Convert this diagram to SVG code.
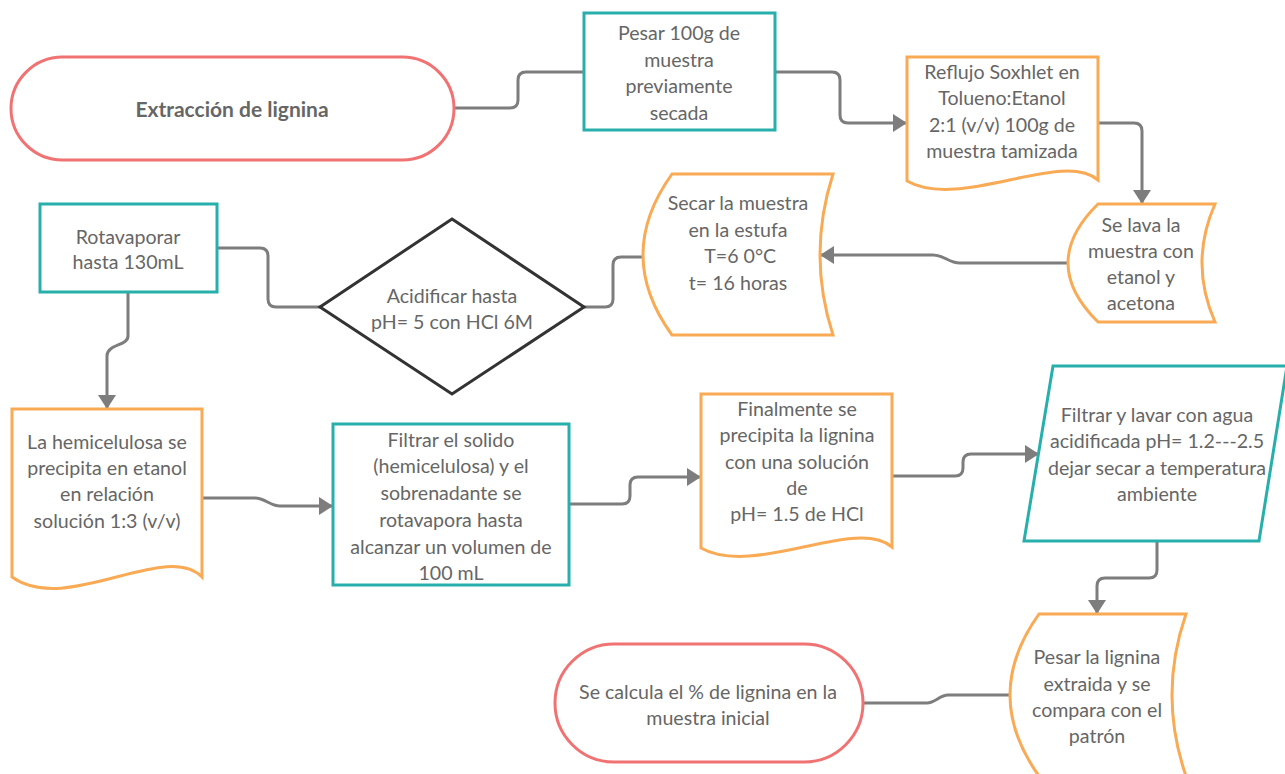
<svg xmlns="http://www.w3.org/2000/svg" width="1285" height="774" viewBox="0 0 1285 774">
<defs>
<style>
.t{font-family:Lato,"Open Sans","Liberation Sans",sans-serif;font-size:19.6px;fill:#666;text-anchor:middle}
.b{font-weight:bold;font-size:21px}
.teal{fill:#fff;stroke:#27b0ab;stroke-width:3}
.orange{fill:#fff;stroke:#f9aa55;stroke-width:3}
.red{fill:#fff;stroke:#f07272;stroke-width:3}
.dia{fill:#fff;stroke:#333;stroke-width:3}
.c{fill:none;stroke:#7d7d7d;stroke-width:3}
.a{marker-end:url(#arr)}
</style>
<marker id="arr" markerUnits="userSpaceOnUse" markerWidth="16" markerHeight="20" refX="14" refY="9" orient="auto">
<path d="M0,0 L14,9 L0,18 Z" fill="#7d7d7d"/>
</marker>
</defs>
<rect width="1285" height="774" fill="#fff"/>
<g id="connectors">
<path class="c" d="M455,108 H510 Q518,108 518,100 V80 Q518,72 526,72 H584"/>
<path class="c a" d="M775,72 H832 Q840,72 840,80 V115 Q840,123 848,123 H907"/>
<path class="c a" d="M1098,123 H1134 Q1142,123 1142,131 V204"/>
<path class="c a" d="M1068,263 H960 C948,263 945,255 933,255 H820"/>
<path class="c" d="M643,257 H621 Q613,257 613,265 V299 Q613,307 605,307 H583"/>
<path class="c" d="M217,248 H260 Q268,248 268,256 V299 Q268,307 276,307 H320"/>
<path class="c a" d="M128,292 V336 C128,346 107,344 107,356 V409"/>
<path class="c a" d="M202,498 H255 C265,498 270,506 280,506 H333"/>
<path class="c a" d="M569,504 H622 Q630,504 630,496 V485 Q630,477 638,477 H701"/>
<path class="c a" d="M892,476 H955 Q963,476 963,468 V462 Q963,454 971,454 H1039"/>
<path class="c a" d="M1157,541 V570 Q1157,578 1149,578 H1105 Q1097,578 1097,586 V614"/>
<path class="c" d="M1010,695 H948 C940,695 935,703 927,703 H863"/>
</g>
<g id="start">
<rect class="red" x="11" y="57" width="443" height="103" rx="51.5"/>
<text class="t b" x="232" y="117">Extracción de lignina</text>
</g>
<g id="pesar100">
<rect class="teal" x="584" y="13" width="191" height="117"/>
<text class="t" x="679"><tspan x="679" y="40">Pesar 100g de</tspan><tspan x="679" y="66.5">muestra</tspan><tspan x="679" y="93">previamente</tspan><tspan x="679" y="119.5">secada</tspan></text>
</g>
<g id="reflujo">
<path class="orange" d="M907,57 H1098 V180 C1062,149 960,211 907,181 Z"/>
<text class="t"><tspan x="1002" y="78.5">Reflujo Soxhlet en</tspan><tspan x="1002" y="105">Tolueno:Etanol</tspan><tspan x="1002" y="131.5">2:1 (v/v) 100g de</tspan><tspan x="1002" y="158">muestra tamizada</tspan></text>
</g>
<g id="selava">
<path class="orange" d="M1098,204 H1215 Q1189,263 1215,322 H1098 Q1038,263 1098,204 Z"/>
<text class="t"><tspan x="1141" y="231.5">Se lava la</tspan><tspan x="1141" y="258">muestra con</tspan><tspan x="1141" y="284">etanol y</tspan><tspan x="1141" y="310">acetona</tspan></text>
</g>
<g id="secar">
<path class="orange" d="M672,174 H833 Q807,255 833,335 H672 Q614,255 672,174 Z"/>
<text class="t"><tspan x="738" y="209.5">Secar la muestra</tspan><tspan x="738" y="236.5">en la estufa</tspan><tspan x="738" y="263"> T=6 0°C</tspan><tspan x="738" y="289.5">t= 16 horas</tspan></text>
</g>
<g id="rotavaporar">
<rect class="teal" x="40" y="204" width="177" height="88"/>
<text class="t"><tspan x="128" y="243.5">Rotavaporar</tspan><tspan x="128" y="269">hasta 130mL</tspan></text>
</g>
<g id="acidificar">
<path class="dia" d="M452,219 L584,307 L452,394 L320,307 Z"/>
<text class="t"><tspan x="452" y="302.5">Acidificar hasta</tspan><tspan x="452" y="329">pH= 5 con HCl 6M</tspan></text>
</g>
<g id="hemicelulosa">
<path class="orange" d="M12,409 H202 V577 C166,540 66,616 12,577 Z"/>
<text class="t"><tspan x="107" y="448.5">La hemicelulosa se</tspan><tspan x="107" y="474.5">precipita en etanol</tspan><tspan x="107" y="500.5">en relación</tspan><tspan x="107" y="527.5">solución 1:3 (v/v)</tspan></text>
</g>
<g id="filtrar">
<rect class="teal" x="333" y="424" width="236" height="161"/>
<text class="t"><tspan x="451" y="446.5">Filtrar el solido</tspan><tspan x="451" y="473">(hemicelulosa) y el</tspan><tspan x="451" y="500">sobrenadante se</tspan><tspan x="451" y="527">rotavapora hasta</tspan><tspan x="451" y="553.5">alcanzar un volumen de</tspan><tspan x="451" y="579.5">100 mL</tspan></text>
</g>
<g id="finalmente">
<path class="orange" d="M701,394 H892 V547 C856,516 754,578 701,548 Z"/>
<text class="t"><tspan x="797" y="415.5">Finalmente se</tspan><tspan x="797" y="442">precipita la lignina</tspan><tspan x="797" y="468.5">con una solución</tspan><tspan x="797" y="494.5">de</tspan><tspan x="797" y="521">pH= 1.5 de HCl</tspan></text>
</g>
<g id="filtrarlavar">
<path class="teal" d="M1053,366 H1287 L1259,541 H1024 Z"/>
<text class="t"><tspan x="1157" y="421.5">Filtrar y lavar con agua</tspan><tspan x="1157" y="448">acidificada pH= 1.2---2.5</tspan><tspan x="1157" y="474.5">dejar secar a temperatura</tspan><tspan x="1157" y="501">ambiente</tspan></text>
</g>
<g id="pesarlignina">
<path class="orange" d="M1039,614 H1186 Q1158,695 1186,776 H1039 Q981,695 1039,614 Z"/>
<text class="t"><tspan x="1097" y="663.5">Pesar la lignina</tspan><tspan x="1097" y="690.5">extraida y se</tspan><tspan x="1097" y="716.5">compara con el</tspan><tspan x="1097" y="742.5">patrón</tspan></text>
</g>
<g id="secalcula">
<rect class="red" x="555" y="644" width="308" height="118" rx="59"/>
<text class="t"><tspan x="708" y="698.5">Se calcula el % de lignina en la</tspan><tspan x="708" y="724.5">muestra inicial</tspan></text>
</g>
</svg>
